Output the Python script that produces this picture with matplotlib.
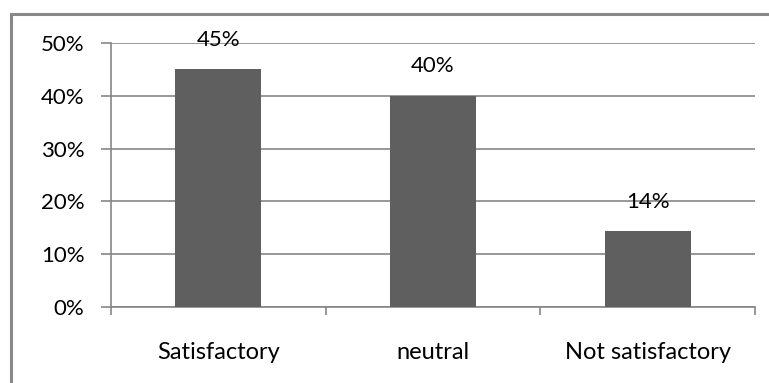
import matplotlib
matplotlib.use("Agg")
import matplotlib.pyplot as plt
from matplotlib.patches import Rectangle
from matplotlib.ticker import FuncFormatter, MultipleLocator

categories = ["Satisfactory", "neutral", "Not satisfactory"]
values = [0.45, 0.40, 0.143]

plt.rcParams['font.family'] = ['Lato', 'DejaVu Sans']

W, H = 769, 383
fig = plt.figure(figsize=(W / 100, H / 100), dpi=100)
fig.patch.set_facecolor('white')

# outer frame (top and left visible)
fig.patches.append(Rectangle((11 / W, -0.1), 1.2, (H - 14) / H + 0.1,
                             transform=fig.transFigure, fill=False,
                             edgecolor='#888888', linewidth=2.2, zorder=0))

ax = fig.add_axes([111 / W, (H - 307) / H, (755 - 111) / W, (307 - 43) / H])
grid_c = '#868686'
x = list(range(len(categories)))
ax.bar(x, values, width=0.4, color='#5f5f5f', zorder=3)
ax.set_xlim(-0.5, len(categories) - 0.5)
ax.set_ylim(0, 0.5)
ax.yaxis.set_major_locator(MultipleLocator(0.1))
ax.yaxis.set_major_formatter(FuncFormatter(lambda v, p: f"{v:.0%}"))
ax.grid(axis='y', color=grid_c, linewidth=1.2, zorder=0)
ax.set_axisbelow(True)

for s in ['top', 'right']:
    ax.spines[s].set_visible(False)
for s in ['left', 'bottom']:
    ax.spines[s].set_color(grid_c)
    ax.spines[s].set_linewidth(1.2)

ax.set_xticks(x)
ax.set_xticklabels(categories)
ax.tick_params(axis='x', length=0, pad=25, labelsize=17, colors='black')
ax.set_xticks([i - 0.5 for i in range(len(categories) + 1)], minor=True)
ax.tick_params(axis='x', which='minor', length=6, width=1.2, color=grid_c, direction='out')
ax.tick_params(axis='y', length=7, width=1.2, color=grid_c, pad=12, labelsize=16)

for xi, v in zip(x, values):
    ax.annotate(f"{v:.0%}", (xi, v), xytext=(0, 14), textcoords='offset points',
                ha='center', va='bottom', fontsize=16)

fig.savefig('out.png', dpi=100)
